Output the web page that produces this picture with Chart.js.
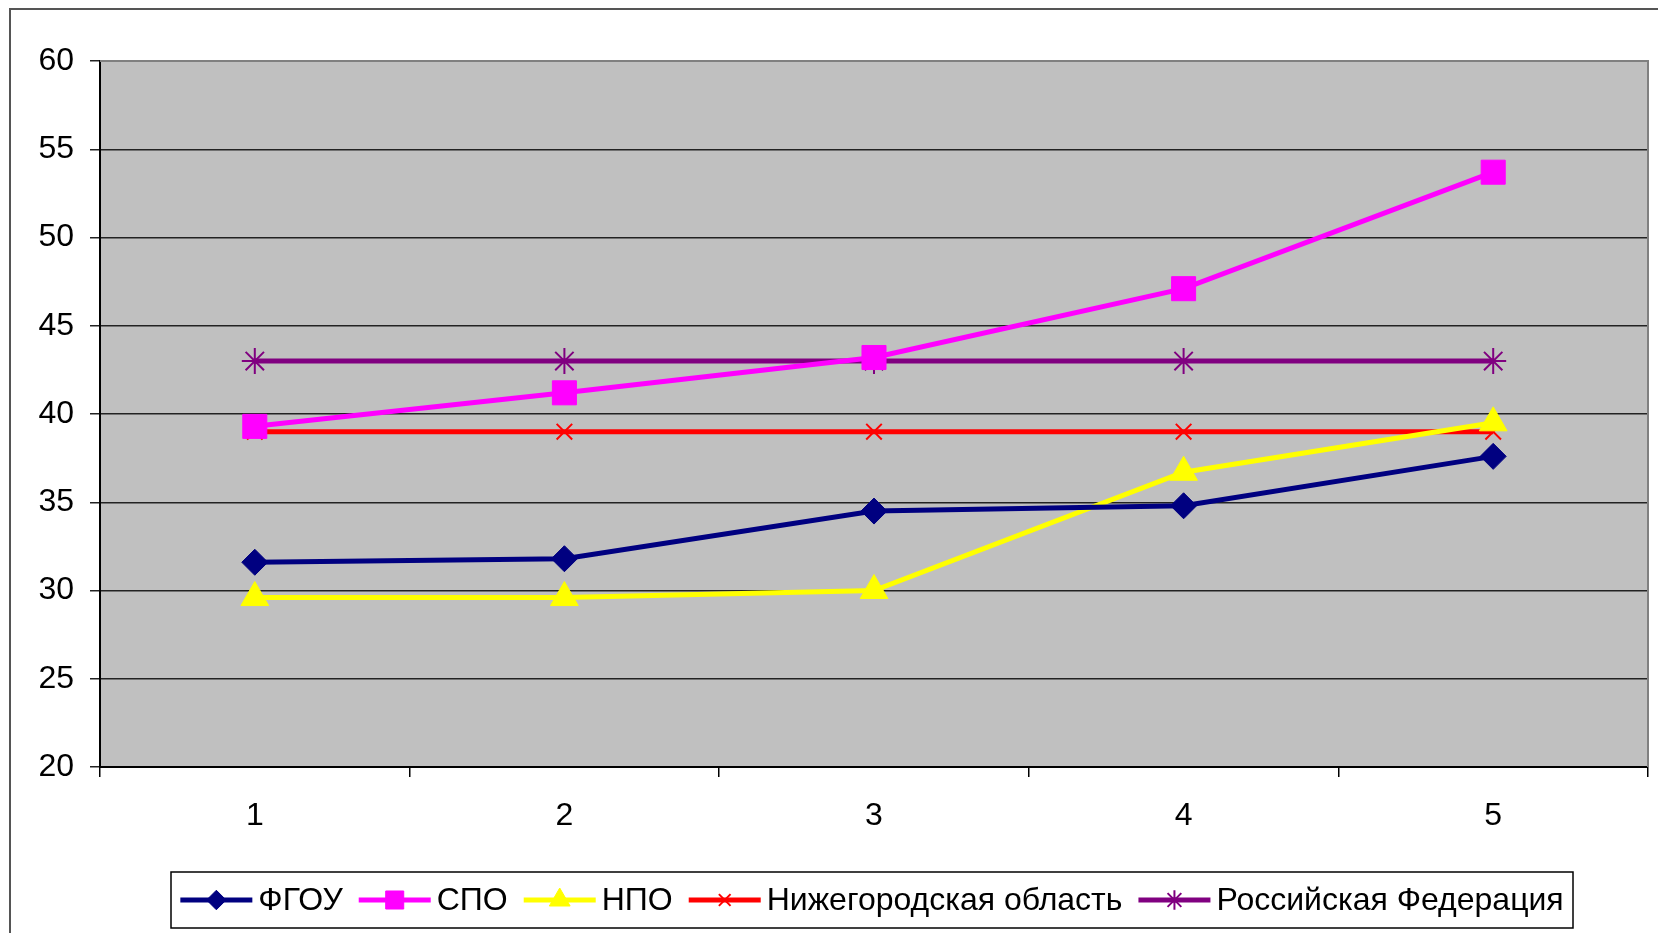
<!DOCTYPE html>
<html>
<head>
<meta charset="utf-8">
<script src="https://cdn.jsdelivr.net/npm/chart.js@4.4.0/dist/chart.umd.min.js"></script>
<style>
  html, body { margin: 0; padding: 0; background: #fff; overflow: hidden; }
  #chart { display: block; width: 1658px; height: 933px; }
</style>
</head>
<body>
<canvas id="chart" width="1658" height="933"></canvas>
<script>
// Values
const categories = ["1", "2", "3", "4", "5"];
const fgouValues = [31.6, 31.8, 34.5, 34.8, 37.6];
const spoValues = [39.3, 41.2, 43.2, 47.1, 53.7];
const npoValues = [29.6, 29.6, 30.0, 36.7, 39.5];
const nizhValues = [39, 39, 39, 39, 39];
const rfValues = [43, 43, 43, 43, 43];
const yMin = 20, yMax = 60, yStep = 5;

const FONT = '"Liberation Sans", Arial, sans-serif';

function series(label, data, color, style, radius, markerBorder) {
    return {
        label: label,
        data: data,
        borderColor: color,
        backgroundColor: color,
        borderWidth: 5,
        pointStyle: style,
        pointRadius: radius,
        pointHoverRadius: radius,
        pointBackgroundColor: color,
        pointBorderColor: color,
        pointBorderWidth: markerBorder,
        tension: 0
    };
}

// Grey plot background, outer frame, plot border
const framePlugin = {
    id: "frame",
    beforeDraw(chart) {
        const { ctx, chartArea: a } = chart;
        ctx.save();
        ctx.fillStyle = "#ffffff";
        ctx.fillRect(0, 0, chart.width, chart.height);
        ctx.strokeStyle = "#555555";
        ctx.lineWidth = 2;
        ctx.strokeRect(10, 9, chart.width + 20, chart.height + 20);
        ctx.fillStyle = "#c0c0c0";
        ctx.fillRect(a.left, a.top, a.right - a.left, a.bottom - a.top);
        ctx.restore();
    },
    afterDatasetsDraw(chart) {
        const { ctx, chartArea: a } = chart;
        ctx.save();
        ctx.strokeStyle = "#808080";
        ctx.lineWidth = 2;
        ctx.beginPath();
        ctx.moveTo(a.left, a.top);
        ctx.lineTo(a.right, a.top);
        ctx.lineTo(a.right, a.bottom);
        ctx.stroke();
        ctx.restore();
    }
};

// Excel-like legend: line sample with marker, then label, inside a box
const legendPlugin = {
    id: "boxLegend",
    afterDraw(chart) {
        const ctx = chart.ctx;
        const x0 = 171, x1 = 1573, y0 = 872, y1 = 928;
        const lineW = 72, gapText = 6, gapItem = 16;
        ctx.save();
        ctx.fillStyle = "#ffffff";
        ctx.fillRect(x0, y0, x1 - x0, y1 - y0);
        ctx.strokeStyle = "#000000";
        ctx.lineWidth = 1.5;
        ctx.strokeRect(x0, y0, x1 - x0, y1 - y0);
        ctx.font = "32px " + FONT;
        const items = chart.data.datasets.map(ds => ({ ds: ds, w: ctx.measureText(ds.label).width }));
        let total = items.reduce((s, it) => s + lineW + gapText + it.w, 0) + gapItem * (items.length - 1);
        let x = (x0 + x1) / 2 - total / 2;
        const cy = (y0 + y1) / 2;
        items.forEach(it => {
            const ds = it.ds;
            ctx.strokeStyle = ds.borderColor;
            ctx.lineWidth = 5;
            ctx.beginPath();
            ctx.moveTo(x, cy);
            ctx.lineTo(x + lineW, cy);
            ctx.stroke();
            ctx.fillStyle = ds.pointBackgroundColor;
            ctx.strokeStyle = ds.pointBorderColor;
            ctx.lineWidth = ds.pointBorderWidth;
            Chart.helpers.drawPoint(ctx, {
                pointStyle: ds.pointStyle,
                rotation: 0,
                radius: ds.pointRadius * 0.75,
                borderWidth: ds.pointBorderWidth
            }, x + lineW / 2, cy);
            ctx.fillStyle = "#000000";
            ctx.textBaseline = "middle";
            ctx.textAlign = "left";
            ctx.fillText(ds.label, x + lineW + gapText, cy + 1);
            x += lineW + gapText + it.w + gapItem;
        });
        ctx.restore();
    }
};

new Chart(document.getElementById("chart").getContext("2d"), {
    type: "line",
    data: {
        labels: categories,
        datasets: [
            series("ФГОУ", fgouValues, "#000080", "rectRot", 13, 1),
            series("СПО", spoValues, "#ff00ff", "rect", 17, 1),
            series("НПО", npoValues, "#ffff00", "triangle", 16, 1),
            series("Нижегородская область", nizhValues, "#ff0000", "crossRot", 11, 2),
            series("Российская Федерация", rfValues, "#800080", "star", 13, 2)
        ]
    },
    options: {
        responsive: false,
        animation: false,
        layout: { autoPadding: false, padding: { top: 61, right: 10, bottom: 0, left: 0 } },
        plugins: {
            legend: { display: false },
            tooltip: { enabled: false }
        },
        scales: {
            x: {
                offset: true,
                afterFit(scale) {
                    scale.height = 166;
                    scale.paddingLeft = 0;
                    scale.paddingRight = 0;
                },
                grid: {
                    offset: true,
                    drawOnChartArea: false,
                    drawTicks: true,
                    tickLength: 10,
                    color: "#000000",
                    lineWidth: 1.5
                },
                border: { display: true, color: "#000000", width: 2 },
                ticks: {
                    color: "#000000",
                    padding: 20,
                    font: { family: FONT, size: 32 }
                }
            },
            y: {
                min: yMin,
                max: yMax,
                afterFit(scale) {
                    scale.width = 100;
                    scale.paddingTop = 0;
                    scale.paddingBottom = 0;
                },
                grid: {
                    color: "#222222",
                    lineWidth: 1.5,
                    tickLength: 10,
                    drawTicks: true
                },
                border: { display: true, color: "#000000", width: 2 },
                ticks: {
                    stepSize: yStep,
                    color: "#000000",
                    padding: 16,
                    font: { family: FONT, size: 32 }
                }
            }
        }
    },
    plugins: [framePlugin, legendPlugin]
});
</script>
</body>
</html>
